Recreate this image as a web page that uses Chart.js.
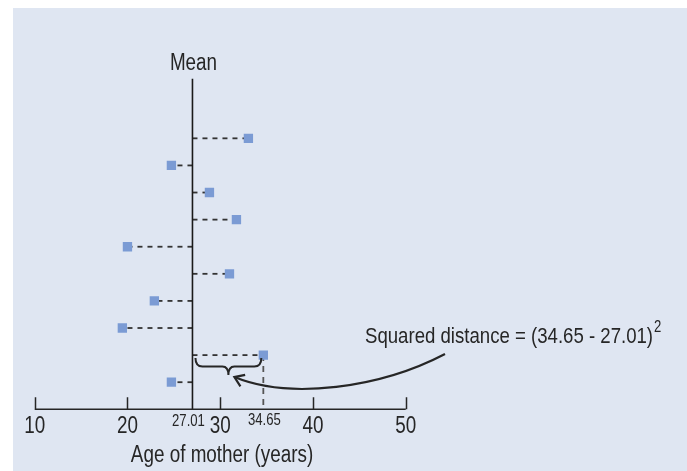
<!DOCTYPE html>
<html>
<head>
<meta charset="utf-8">
<title>Squared distance from the mean</title>
<script src="https://cdn.jsdelivr.net/npm/chart.js@4.4.1/dist/chart.umd.min.js"></script>
<style>
  html, body { margin: 0; padding: 0; background: #ffffff; }
  canvas { display: block; }
</style>
</head>
<body>
<canvas id="ageChart" width="687" height="471"></canvas>
<script>
// ---------------- data ----------------
// age of each mother (years), top row first
const ages = [33.04, 24.74, 28.84, 31.75, 20.0, 31.0, 22.9, 19.45, 34.65, 24.74];
// row of each point (1 = bottom row)
const rows = [10, 9, 8, 7, 6, 5, 4, 3, 2, 1];
const meanAge = 27.01;
const highlightIndex = 8;           // the 34.65 point
const xTickValues = [10, 20, 30, 40, 50];
const xTickLabels = ['10', '20', '30', '40', '50'];
const meanLabel = 'Mean';
const axisTitle = 'Age of mother (years)';
const noteText = 'Squared distance = (34.65 - 27.01)';
const noteExponent = '2';

// ---------------- styles ----------------
const FONT = "'Liberation Sans', Arial, sans-serif";
const SQUEEZE = 0.82;    // horizontal squeeze to get a condensed look
const INK = '#262626';
const DASH_INK = '#333333';
const MARK = '#7b9bd4';
const PANEL = '#dfe6f2';
const MEAN_TOP = 12.2;   // how far up the mean line reaches (row units)

// dashed guides from the mean line to each point
const guideSets = ages.map((a, i) => ({
    type: 'line',
    data: [{ x: meanAge, y: rows[i] }, { x: a, y: rows[i] }],
    borderColor: DASH_INK,
    borderWidth: 1.8,
    borderDash: [5, 5],
    pointRadius: 0,
    showLine: true,
    order: 2
}));

// vertical dashed drop for the highlighted point
const dropSet = {
    type: 'line',
    data: [{ x: ages[highlightIndex], y: rows[highlightIndex] }, { x: ages[highlightIndex], y: 0 }],
    borderColor: '#555555',
    borderWidth: 1.8,
    borderDash: [6, 5],
    pointRadius: 0,
    showLine: true,
    order: 2
};

// the mean line itself
const meanSet = {
    type: 'line',
    data: [{ x: meanAge, y: 0 }, { x: meanAge, y: MEAN_TOP }],
    borderColor: '#1a1a1a',
    borderWidth: 1.6,
    pointRadius: 0,
    showLine: true,
    order: 1
};

const pointSet = {
    type: 'scatter',
    data: ages.map((a, i) => ({ x: a, y: rows[i] })),
    pointStyle: 'rect',
    pointRadius: 6.6,
    pointBackgroundColor: MARK,
    pointBorderColor: MARK,
    pointBorderWidth: 0,
    order: 0
};

// draws text squeezed horizontally
function squeezedText(ctx, text, x, y, size, align) {
    ctx.save();
    ctx.font = size + 'px ' + FONT;
    ctx.textBaseline = 'middle';
    ctx.textAlign = 'left';
    const w = ctx.measureText(text).width * SQUEEZE;
    let left = x;
    if (align === 'center') left = x - w / 2;
    if (align === 'right') left = x - w;
    ctx.translate(left, y);
    ctx.scale(SQUEEZE, 1);
    ctx.fillText(text, 0, 0);
    ctx.restore();
    return w;
}

// panel background
const panelPlugin = {
    id: 'panel',
    beforeDraw(chart) {
        const ctx = chart.ctx;
        ctx.save();
        ctx.fillStyle = PANEL;
        ctx.fillRect(13, 8, chart.width - 13, chart.height - 8);
        ctx.restore();
    }
};

// axis, labels, brace, arrow and note
const decorPlugin = {
    id: 'decor',
    afterDatasetsDraw(chart) {
        const ctx = chart.ctx;
        const xs = chart.scales.x;
        const ys = chart.scales.y;
        const y0 = ys.getPixelForValue(0);
        const xMin = xs.getPixelForValue(xTickValues[0]);
        const xMax = xs.getPixelForValue(xTickValues[xTickValues.length - 1]);

        ctx.save();
        ctx.strokeStyle = INK;
        ctx.fillStyle = INK;
        ctx.lineWidth = 1.5;

        // axis line + upward ticks
        ctx.beginPath();
        ctx.moveTo(xMin, y0);
        ctx.lineTo(xMax, y0);
        xTickValues.forEach(v => {
            const px = Math.round(xs.getPixelForValue(v)) + 0.5;
            ctx.moveTo(px, y0);
            ctx.lineTo(px, y0 - 12);
        });
        ctx.stroke();

        // tick labels
        xTickValues.forEach((v, i) => {
            squeezedText(ctx, xTickLabels[i], xs.getPixelForValue(v), y0 + 17, 23, 'center');
        });

        // small value labels under the axis
        squeezedText(ctx, meanAge.toFixed(2), xs.getPixelForValue(meanAge) - 4, y0 + 12, 16, 'center');
        squeezedText(ctx, ages[highlightIndex].toFixed(2), xs.getPixelForValue(ages[highlightIndex]) + 1, y0 + 11, 16, 'center');

        // axis title
        squeezedText(ctx, axisTitle, xs.getPixelForValue(30.2), y0 + 46, 23, 'center');

        // "Mean" above the mean line
        squeezedText(ctx, meanLabel, xs.getPixelForValue(meanAge) + 1, ys.getPixelForValue(MEAN_TOP) - 15, 23, 'center');

        // curly brace under the highlighted distance
        const bx1 = xs.getPixelForValue(meanAge) + 3;
        const bx2 = xs.getPixelForValue(ages[highlightIndex]) - 2;
        const by = ys.getPixelForValue(rows[highlightIndex]) + 3;
        const bh = 17;
        const bm = (bx1 + bx2) / 2;
        ctx.lineWidth = 2;
        ctx.beginPath();
        ctx.moveTo(bx1, by);
        ctx.quadraticCurveTo(bx1, by + bh * 0.5, bx1 + 7, by + bh * 0.5);
        ctx.lineTo(bm - 6, by + bh * 0.5);
        ctx.quadraticCurveTo(bm, by + bh * 0.5, bm, by + bh);
        ctx.quadraticCurveTo(bm, by + bh * 0.5, bm + 6, by + bh * 0.5);
        ctx.lineTo(bx2 - 7, by + bh * 0.5);
        ctx.quadraticCurveTo(bx2, by + bh * 0.5, bx2, by);
        ctx.stroke();

        // curved arrow from the note to the brace
        const sx = 445, sy = 354;
        const tx = bm + 6, ty = by + bh + 2;
        const c1x = 380, c1y = 388, c2x = 290, c2y = 400;
        ctx.lineWidth = 2.2;
        ctx.beginPath();
        ctx.moveTo(sx, sy);
        ctx.bezierCurveTo(c1x, c1y, c2x, c2y, tx, ty);
        ctx.stroke();
        const ang = Math.atan2(ty - c2y, tx - c2x);
        const hl = 11;
        ctx.beginPath();
        ctx.moveTo(tx - hl * Math.cos(ang - 0.6), ty - hl * Math.sin(ang - 0.6));
        ctx.lineTo(tx, ty);
        ctx.lineTo(tx - hl * Math.cos(ang + 0.6), ty - hl * Math.sin(ang + 0.6));
        ctx.stroke();

        // note text with superscript
        const w = squeezedText(ctx, noteText, 365, 337, 22.7, 'left');
        squeezedText(ctx, noteExponent, 365 + w + 1, 328, 16, 'left');

        ctx.restore();
    }
};

const chart = new Chart(document.getElementById('ageChart'), {
    type: 'scatter',
    data: {
        datasets: [pointSet, meanSet, dropSet].concat(guideSets)
    },
    options: {
        responsive: false,
        animation: false,
        devicePixelRatio: 1,
        layout: {
            padding: { left: 34.7, right: 281.3, top: 73.3, bottom: 61.7 }
        },
        scales: {
            x: { type: 'linear', min: 10, max: 50, display: false },
            y: { type: 'linear', min: 0, max: 12.4, display: false }
        },
        plugins: {
            legend: { display: false },
            tooltip: { enabled: false }
        }
    },
    plugins: [panelPlugin, decorPlugin]
});
</script>
</body>
</html>
